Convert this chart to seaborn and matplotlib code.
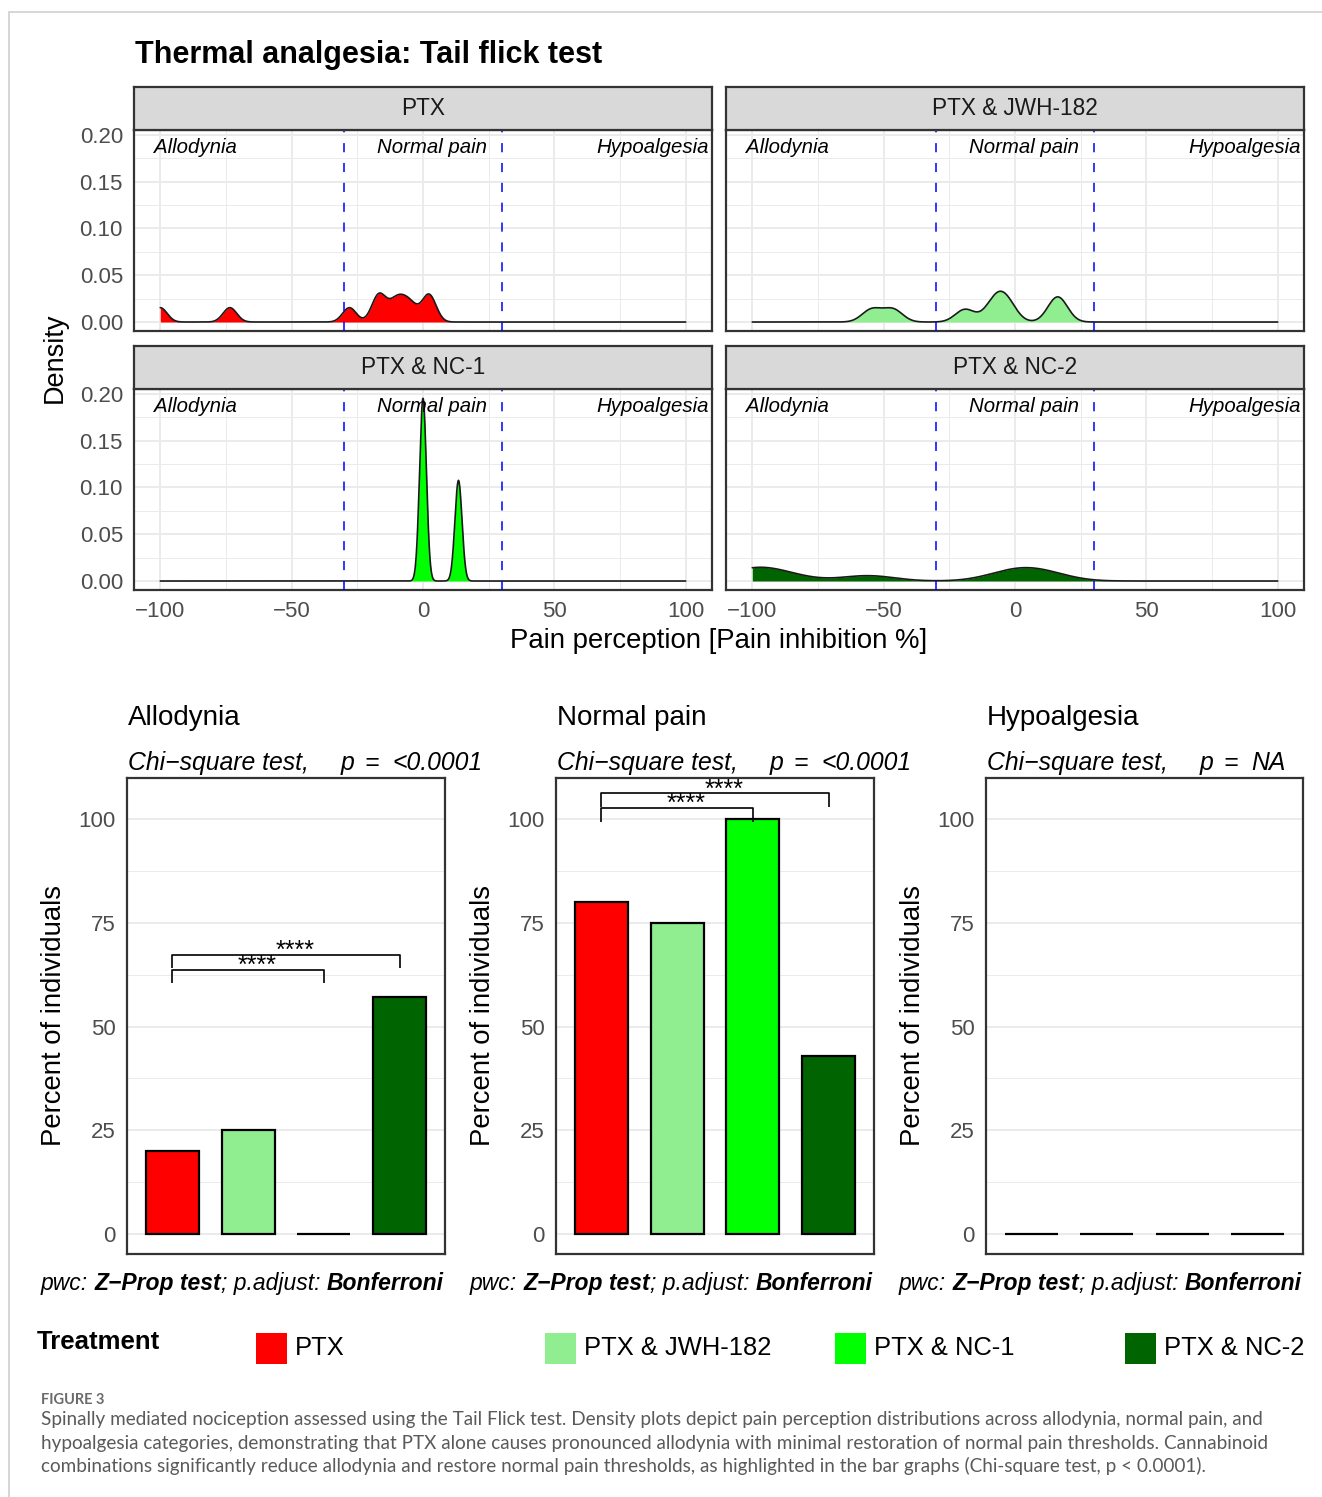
import numpy as np
import pandas as pd
import matplotlib
matplotlib.use("Agg")
import matplotlib.pyplot as plt
from matplotlib.patches import Rectangle
from matplotlib.ticker import FormatStrFormatter
import seaborn as sns

# ---------------- data ----------------
treatments = ["PTX", "PTX & JWH-182", "PTX & NC-1", "PTX & NC-2"]
treatment_colors = ["#FF0000", "#90EE90", "#00FF00", "#006400"]

# individual pain-inhibition values (%) read from the density shapes
ptx_inhibition = [-100, -73.5, -28, -17.5, -16, -11, -8, -4.5, 1.5, 3]
jwh_inhibition = [-54.5, -46.5, -19, -8.5, -5.5, -2.5, 16, 16.5]
nc1_inhibition = [0, 0, 0, 0, 0, 0, 0, 13, 13.5, 13.5, 14]
nc2_inhibition = [-100, -100, -88, -56, -3, 4, 12]
kde_bandwidth = [2.6, 3.7, 1.3, 10.0]

zone_names = ["Allodynia", "Normal pain", "Hypoalgesia"]
zone_cutoffs = [-30, 30]

allodynia_pct = [20.0, 25.0, 0.0, 57.1]
normal_pct = [80.0, 75.0, 100.0, 42.9]
hypoalgesia_pct = [0.0, 0.0, 0.0, 0.0]
chisq_p = ["<0.0001", "<0.0001", "NA"]
allodynia_pairs = [(0, 2, 63.7, "****"), (0, 3, 67.3, "****")]
normal_pairs = [(0, 2, 102.7, "****"), (0, 3, 106.2, "****")]
hypoalgesia_pairs = []

caption_lines = [
    "Spinally mediated nociception assessed using the Tail Flick test. Density plots depict pain perception distributions across allodynia, normal pain, and",
    "hypoalgesia categories, demonstrating that PTX alone causes pronounced allodynia with minimal restoration of normal pain thresholds. Cannabinoid",
    "combinations significantly reduce allodynia and restore normal pain thresholds, as highlighted in the bar graphs (Chi-square test, p < 0.0001).",
]

# ---------------- setup ----------------
sns.set_style("white")
plt.rcParams["font.family"] = ["Liberation Sans", "DejaVu Sans"]
plt.rcParams["text.color"] = "black"
W, H = 1322, 1497
fig = plt.figure(figsize=(W / 100, H / 100), dpi=100)
fig.patch.set_facecolor("white")
renderer = fig.canvas.get_renderer()


def fbox(x0, y0, x1, y1):
    return [x0 / W, 1 - y1 / H, (x1 - x0) / W, (y1 - y0) / H]


def fx(x):
    return x / W


def fy(y):
    return 1 - y / H


def text_width(s, **kw):
    t1 = fig.text(0, 0, "|" + s + "|", **kw)
    w1 = t1.get_window_extent(renderer).width
    t1.remove()
    t2 = fig.text(0, 0, "||", **kw)
    w2 = t2.get_window_extent(renderer).width
    t2.remove()
    return w1 - w2


def draw_runs(x_px, y_px, runs, align="left", **common):
    widths = [text_width(s, **common, **st) for s, st in runs]
    x = x_px - sum(widths) if align == "right" else x_px
    for (s, st), w in zip(runs, widths):
        fig.text(fx(x), fy(y_px), s.rstrip(), ha="left", va="baseline", **common, **st)
        x += w


BORDER = "#333333"
GRID = "#EBEBEB"
TICKLAB = "#4D4D4D"


def style_panel(ax):
    for s in ax.spines.values():
        s.set_visible(True)
        s.set_color(BORDER)
        s.set_linewidth(1.6)
    ax.set_axisbelow(True)
    ax.grid(which="major", color=GRID, linewidth=1.4)
    ax.grid(which="minor", color=GRID, linewidth=0.7)
    ax.tick_params(which="major", length=5, width=1.2, color=BORDER,
                   labelcolor=TICKLAB, labelsize=16, pad=3)
    ax.tick_params(which="minor", length=0)


# outer page frame
fig.add_artist(Rectangle((fx(9), -0.2), 2, fy(12) + 0.2, transform=fig.transFigure,
                         fill=False, edgecolor="#D3D3D3", linewidth=1.3))

# ---------------- density facets ----------------
fig.text(fx(135), fy(55), "Thermal analgesia: Tail flick test", fontsize=22,
         weight="bold", ha="left", va="center")

dens_data = [ptx_inhibition, jwh_inhibition, nc1_inhibition, nc2_inhibition]
dens_boxes = [(134, 130, 712, 331), (726, 130, 1304, 331),
              (134, 389, 712, 590), (726, 389, 1304, 590)]

for k, (vals, bw, col, name, box) in enumerate(zip(dens_data, kde_bandwidth,
                                                    treatment_colors, treatments, dens_boxes)):
    ax = fig.add_axes(fbox(*box))
    style_panel(ax)
    factor = bw / np.std(vals, ddof=1)
    common = dict(x=vals, ax=ax, bw_method=factor, cut=1000, clip=(-100, 100), gridsize=4001)
    sns.kdeplot(fill=True, color=col, alpha=1, linewidth=0, **common)
    sns.kdeplot(color="#1A1A1A", linewidth=1.2, **common)
    for c in zone_cutoffs:
        ax.axvline(c, color="#0000FF", linewidth=1.1, linestyle=(0, (6, 7)), zorder=3)
    ax.text(-102.5, 0.187, zone_names[0], style="italic", fontsize=14.7, ha="left", va="center")
    ax.text(3.5, 0.187, zone_names[1], style="italic", fontsize=14.7, ha="center", va="center")
    ax.text(109, 0.187, zone_names[2], style="italic", fontsize=14.7, ha="right", va="center")
    ax.set_xlim(-110, 110)
    ax.set_ylim(-0.0096, 0.2053)
    ax.set_xticks([-100, -50, 0, 50, 100])
    ax.set_xticks([-75, -25, 25, 75], minor=True)
    ax.set_yticks([0, 0.05, 0.10, 0.15, 0.20])
    ax.set_yticks([0.025, 0.075, 0.125, 0.175], minor=True)
    ax.yaxis.set_major_formatter(FormatStrFormatter("%.2f"))
    ax.set_xlabel("")
    ax.set_ylabel("")
    if k % 2 == 1:
        ax.tick_params(axis="y", which="both", left=False, labelleft=False)
    if k < 2:
        ax.tick_params(axis="x", which="both", bottom=False, labelbottom=False)
    # strip
    sax = fig.add_axes(fbox(box[0], box[1] - 43, box[2], box[1]))
    sax.set_facecolor("#D9D9D9")
    sax.set_xticks([])
    sax.set_yticks([])
    for s in sax.spines.values():
        s.set_visible(True)
        s.set_color(BORDER)
        s.set_linewidth(1.6)
    sax.text(0.5, 0.5, name, ha="center", va="center", fontsize=16.3,
             color="#1A1A1A", transform=sax.transAxes)

fig.text(fx(55), fy(358), "Density", rotation=90, fontsize=19.5, ha="center", va="center")
fig.text(fx(719), fy(641), "Pain perception [Pain inhibition %]", fontsize=19.8,
         ha="center", va="center")

# ---------------- bar panels ----------------
bar_sets = [("Allodynia", allodynia_pct, allodynia_pairs),
            ("Normal pain", normal_pct, normal_pairs),
            ("Hypoalgesia", hypoalgesia_pct, hypoalgesia_pairs)]
bar_boxes = [(127, 778, 445, 1254), (556, 778, 874, 1254), (986, 778, 1303, 1254)]

for (title, pct, pairs), pval, box in zip(bar_sets, chisq_p, bar_boxes):
    ax = fig.add_axes(fbox(*box))
    style_panel(ax)
    df = pd.DataFrame({"Treatment": treatments, "Percent": pct})
    sns.barplot(data=df, x="Treatment", y="Percent", hue="Treatment", order=treatments,
                hue_order=treatments, palette=treatment_colors, saturation=1, width=0.7,
                edgecolor="black", linewidth=1.6, errorbar=None, legend=False, ax=ax)
    ax.set_xlim(-0.6, 3.6)
    ax.set_ylim(-4.83, 109.9)
    ax.set_yticks([0, 25, 50, 75, 100])
    ax.set_yticks([12.5, 37.5, 62.5, 87.5], minor=True)
    ax.set_xticks(range(len(treatments)))
    ax.set_xticklabels([])
    ax.tick_params(axis="x", which="both", length=0)
    ax.set_xlabel("")
    ax.set_ylabel("")
    for i, j, y, lab in pairs:
        ax.plot([i, i, j, j], [y - 3.3, y, y, y - 3.3], color="black", linewidth=1.2,
                solid_capstyle="butt", zorder=4)
        ax.text((i + j) / 2 + 0.12, y - 0.8, lab, ha="center", va="baseline", fontsize=18)

    x0 = box[0] + 1
    fig.text(fx(x0), fy(725), title, fontsize=20, ha="left", va="baseline")
    fig.text(fx(x0), fy(770), "Chi\u2212square test,", style="italic", fontsize=17.8,
             ha="left", va="baseline")
    fig.text(fx(x0 + 213), fy(770), "p", style="italic", fontsize=17.8, ha="left", va="baseline")
    fig.text(fx(x0 + 244), fy(770), "=", style="italic", fontsize=17.8, ha="center", va="baseline")
    fig.text(fx(x0 + 264), fy(770), pval, style="italic", fontsize=17.8, ha="left", va="baseline")
    fig.text(fx(box[0] - 72.5), fy(1016), "Percent of individuals", rotation=90,
             fontsize=19.8, ha="center", va="center")
    draw_runs(box[2] - 1, 1290,
              [("pwc: ", dict(style="italic")),
               ("Z\u2212Prop test", dict(style="italic", weight="bold")),
               ("; p.adjust: ", dict(style="italic")),
               ("Bonferroni", dict(style="italic", weight="bold"))],
              align="right", fontsize=16.5)

# ---------------- legend ----------------
fig.text(fx(37), fy(1342), "Treatment", fontsize=18.5, weight="bold", ha="left", va="center")
key_x = [256, 545, 835, 1125]
for kx, col, name in zip(key_x, treatment_colors, treatments):
    fig.add_artist(Rectangle((fx(kx), fy(1364)), 31 / W, 31 / H, transform=fig.transFigure,
                             facecolor=col, edgecolor="none"))
    fig.text(fx(kx + 39), fy(1348), name, fontsize=18.4, ha="left", va="center")

# ---------------- caption ----------------
t = fig.text(fx(41), fy(1400), "FIGURE 3", fontsize=10, color="#6B6B6B", weight="bold",
             family=["Lato", "DejaVu Sans"], ha="left", va="center")
w = t.get_window_extent(renderer).width
t.set_fontsize(10 * 64 / w)

cap_kw = dict(color="#5A5A5A", family=["Lato", "DejaVu Sans"], ha="left", va="center")
t0 = fig.text(fx(41), fy(1419), caption_lines[0], fontsize=12, **cap_kw)
w0 = t0.get_window_extent(renderer).width
cap_size = 12 * 1217 / w0
t0.set_fontsize(cap_size)
fig.text(fx(41), fy(1443), caption_lines[1], fontsize=cap_size, **cap_kw)
fig.text(fx(41), fy(1466), caption_lines[2], fontsize=cap_size, **cap_kw)

fig.savefig("out.png", dpi=100, facecolor="white")
